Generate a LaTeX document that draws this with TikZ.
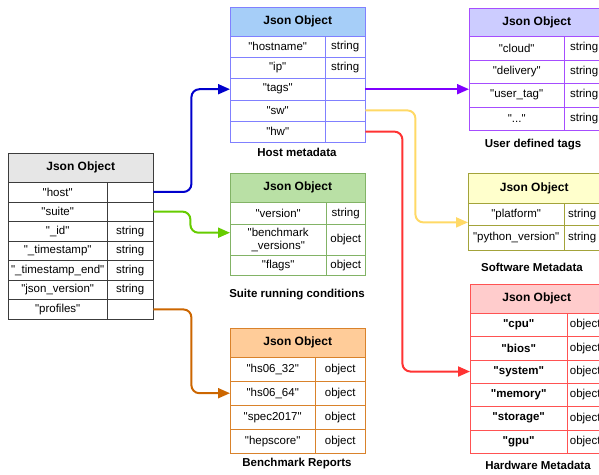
\documentclass[tikz,border=0pt]{standalone}
\usepackage{fontspec}
\setmainfont{Liberation Sans}[Ligatures=TeXOff]
\usetikzlibrary{arrows.meta}

\definecolor{mainline}{HTML}{3C3C3C}
\definecolor{mainfill}{HTML}{E6E6E6}
\definecolor{hostline}{HTML}{8080FF}
\definecolor{hostfill}{HTML}{A6CEF8}
\definecolor{tagsline}{HTML}{A64DFF}
\definecolor{tagsfill}{HTML}{CCCCFF}
\definecolor{suiteline}{HTML}{82B366}
\definecolor{suitefill}{HTML}{B9E0A5}
\definecolor{swline}{HTML}{A3A33A}
\definecolor{swfill}{HTML}{FFFFCC}
\definecolor{benchline}{HTML}{D9822B}
\definecolor{benchfill}{HTML}{FFCC99}
\definecolor{hwline}{HTML}{FF5252}
\definecolor{hwfill}{HTML}{FFCCCC}
\definecolor{cblue}{HTML}{0000CC}
\definecolor{cgreen}{HTML}{66CC00}
\definecolor{corange}{HTML}{CC6600}
\definecolor{cpurple}{HTML}{7F00FF}
\definecolor{cyellow}{HTML}{FFD966}
\definecolor{cred}{HTML}{FF3333}

\tikzset{
  cell/.style={draw, anchor=north west, inner sep=0pt, align=center,
    font=\fontsize{11.5}{13}\selectfont},
  head/.style={cell, font=\fontsize{12}{14}\selectfont\bfseries},
  lbl/.style={font=\fontsize{11.5}{13}\selectfont\bfseries},
  link/.style={line width=2pt, rounded corners=8pt, -{Triangle[length=12pt,width=10pt]}},
}

\begin{document}
\begin{tikzpicture}[x=1pt, y=-1pt]
  \clip (0,0) rectangle (599,474);
  % main object
  \node[head, draw=mainline, fill=mainfill, minimum width=145pt, minimum height=29pt] (m-h) at (8,153) {Json Object};
  \foreach \k/\t [count=\i] in {host/{}, suite/{}, \_id/string, \_timestamp/string,
      \_timestamp\_end/string, json\_version/string, profiles/{}} {
      \node[cell, draw=mainline, minimum width=99pt, minimum height=19.57pt] (m-k\i) at (8, 182+19.57*\i-19.57) {"\k"};
      \node[cell, draw=mainline, minimum width=46pt, minimum height=19.57pt] (m-t\i) at (107, 182+19.57*\i-19.57) {\t};
    }

  % host metadata
  \node[head, draw=hostline, fill=hostfill, minimum width=135pt, minimum height=29pt] (host-h) at (230,7) {Json Object};
  \foreach \k/\t [count=\i] in {hostname/string, ip/string, tags/{}, sw/{}, hw/{}} {
      \node[cell, draw=hostline, minimum width=95pt, minimum height=21.2pt] (host-k\i) at (230, 36+21.2*\i-21.2) {"\k"};
      \node[cell, draw=hostline, minimum width=40pt, minimum height=21.2pt] (host-t\i) at (325, 36+21.2*\i-21.2) {\t};
    }
  \node[lbl] (host-l) at (297,152) {Host metadata};

  % user defined tags
  \node[head, draw=tagsline, fill=tagsfill, minimum width=135pt, minimum height=28pt] (tags-h) at (469,8) {Json Object};
  \foreach \k/\t [count=\i] in {cloud/string, delivery/string, user\_tag/string, {.{}.{}.}/string} {
      \node[cell, draw=tagsline, minimum width=95pt, minimum height=23.5pt] (tags-k\i) at (469, 36+23.5*\i-23.5) {"\k"};
      \node[cell, draw=tagsline, minimum width=40pt, minimum height=23.5pt] (tags-t\i) at (564, 36+23.5*\i-23.5) {\t};
    }
  \node[lbl] (tags-l) at (533,145) {User defined tags};

  % suite running conditions
  \node[head, draw=suiteline, fill=suitefill, minimum width=135pt, minimum height=29pt] (suite-h) at (230,173) {Json Object};
  \foreach \k/\t/\y/\h [count=\i] in {version/string/202/22, {benchmark\\\_versions}/object/224/31, flags/object/255/20} {
      \node[cell, draw=suiteline, minimum width=96pt, minimum height=\h pt] (suite-k\i) at (230,\y) {"\k"};
      \node[cell, draw=suiteline, minimum width=39pt, minimum height=\h pt] (suite-t\i) at (326,\y) {\t};
    }
  \node[lbl] (suite-l) at (297,295) {Suite running conditions};

  % software metadata
  \node[head, draw=swline, fill=swfill, minimum width=132pt, minimum height=30pt] (sw-h) at (468,173) {Json Object};
  \foreach \k/\t/\y/\h [count=\i] in {platform/string/203/22, python\_version/string/225/25} {
      \node[cell, draw=swline, minimum width=96pt, minimum height=\h pt] (sw-k\i) at (468,\y) {"\k"};
      \node[cell, draw=swline, minimum width=36pt, minimum height=\h pt] (sw-t\i) at (564,\y) {\t};
    }
  \node[lbl] (sw-l) at (532,267) {Software Metadata};

  % benchmark reports
  \node[head, draw=benchline, fill=benchfill, minimum width=135pt, minimum height=29pt] (bench-h) at (230,328) {Json Object};
  \foreach \k/\t [count=\i] in {hs06\_32/object, hs06\_64/object, spec2017/object, hepscore/object} {
      \node[cell, draw=benchline, minimum width=85pt, minimum height=24pt] (bench-k\i) at (230, 357+24*\i-24) {"\k"};
      \node[cell, draw=benchline, minimum width=50pt, minimum height=24pt] (bench-t\i) at (315, 357+24*\i-24) {\t};
    }
  \node[lbl] (bench-l) at (297,464) {Benchmark Reports};

  % hardware metadata
  \node[head, draw=hwline, fill=hwfill, minimum width=133pt, minimum height=29pt] (hw-h) at (470,284) {Json Object};
  \foreach \k/\t [count=\i] in {cpu/object, bios/object, system/object, memory/object, storage/object, gpu/object} {
      \node[cell, draw=hwline, minimum width=97pt, minimum height=23.33pt, font=\fontsize{11.5}{13}\selectfont\bfseries] (hw-k\i) at (470, 313+23.33*\i-23.33) {"\k"};
      \node[cell, draw=hwline, minimum width=36pt, minimum height=23.33pt] (hw-t\i) at (567, 313+23.33*\i-23.33) {\t};
    }
  \node[lbl] (hw-l) at (538,465) {Hardware Metadata};

  % links
  \draw[link, cblue] (m-t1.east) -- ++(38,0) |- (host-k3.west);
  \draw[link, cgreen] (m-t2.east) -- ++(37,0) |- ([yshift=7pt]suite-k2.west);
  \draw[link, corange] (m-t7.east) -- ++(38,0) |- (bench-k2.west);
  \draw[link, cpurple] (host-t3.east) -- (host-t3.east -| tags-k1.west);
  \draw[link, cyellow] (host-t4.east) -- ++(50,0) |- ([yshift=3pt]sw-k1.south west);
  \draw[link, cred] (host-t5.east) -- ++(37,0) |- (hw-k3.west);
\end{tikzpicture}
\end{document}
